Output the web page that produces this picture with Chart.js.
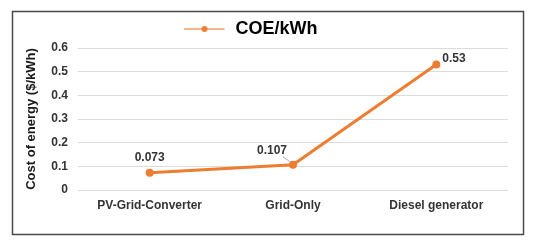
<!DOCTYPE html>
<html>
<head>
<meta charset="utf-8">
<script src="https://cdn.jsdelivr.net/npm/chart.js@4/dist/chart.umd.min.js"></script>
<style>
  html, body { margin: 0; padding: 0; background: #fff; }
  #wrap { width: 539px; height: 249px; }
</style>
</head>
<body>
<div id="wrap"><canvas id="coeChart" width="539" height="249"></canvas></div>
<script>
const categories = ["PV-Grid-Converter", "Grid-Only", "Diesel generator"];
const coeValues = [0.073, 0.107, 0.53];
const coeLabels = ["0.073", "0.107", "0.53"];
const yTicks = [0, 0.1, 0.2, 0.3, 0.4, 0.5, 0.6];

const orange = "#ed7d31";
const font = "'Liberation Sans', Arial, sans-serif";

// legend swatch: short line with a dot in the middle
const swatch = document.createElement("canvas");
swatch.width = 42;
swatch.height = 10;
(() => {
  const c = swatch.getContext("2d");
  c.strokeStyle = "rgba(237,125,49,0.75)";
  c.lineWidth = 1.5;
  c.beginPath();
  c.moveTo(0, 5);
  c.lineTo(40, 5);
  c.stroke();
  c.fillStyle = orange;
  c.beginPath();
  c.arc(20, 5, 3, 0, Math.PI * 2);
  c.fill();
})();

const frame = {
  id: "frame",
  beforeDraw(chart) {
    const ctx = chart.ctx;
    ctx.save();
    ctx.fillStyle = "#fff";
    ctx.fillRect(0, 0, chart.width, chart.height);
    ctx.strokeStyle = "#4a4a4a";
    ctx.lineWidth = 1.5;
    ctx.strokeRect(12.5, 11.5, 511, 223);
    ctx.restore();
  },
};

// offsets of each value label from its point: [dx, dy, align]
const labelPlacement = [
  [0, -15, "center"],
  [-21, -14, "center"],
  [6, -6, "left"],
];

const valueLabels = {
  id: "valueLabels",
  afterDatasetsDraw(chart) {
    const ctx = chart.ctx;
    const meta = chart.getDatasetMeta(0);
    ctx.save();
    ctx.font = `bold 12px ${font}`;
    ctx.fillStyle = "#333";
    ctx.textBaseline = "middle";
    meta.data.forEach((pt, i) => {
      const [dx, dy, align] = labelPlacement[i];
      ctx.textAlign = align;
      ctx.fillText(coeLabels[i], pt.x + dx, pt.y + dy);
      if (i === 1) {
        ctx.strokeStyle = "#999";
        ctx.lineWidth = 0.8;
        ctx.beginPath();
        ctx.moveTo(pt.x - 10, pt.y - 8);
        ctx.lineTo(pt.x - 2, pt.y - 2);
        ctx.stroke();
      }
    });
    ctx.restore();
  },
};

new Chart(document.getElementById("coeChart"), {
  type: "line",
  data: {
    labels: categories,
    datasets: [
      {
        label: "COE/kWh",
        data: coeValues,
        borderColor: orange,
        backgroundColor: orange,
        borderWidth: 3,
        pointRadius: 4,
        pointBackgroundColor: orange,
        pointBorderWidth: 0,
        tension: 0,
      },
    ],
  },
  options: {
    responsive: false,
    animation: false,
    layout: { padding: { left: -6, right: 31, top: 10, bottom: 0 } },
    plugins: {
      legend: {
        position: "top",
        labels: {
          usePointStyle: true,
          pointStyleWidth: 42,
          color: "#111",
          font: { family: font, size: 18, weight: "bold" },
          generateLabels: (chart) => [
            {
              text: chart.data.datasets[0].label,
              pointStyle: swatch,
              fillStyle: orange,
              strokeStyle: orange,
              lineWidth: 0,
              datasetIndex: 0,
            },
          ],
        },
      },
      tooltip: { enabled: false },
    },
    scales: {
      x: {
        offset: true,
        grid: { display: false, drawTicks: false },
        border: { display: false },
        ticks: { color: "#333", padding: 8, font: { family: font, size: 12, weight: "bold" } },
        afterFit: (scale) => { scale.height = 59; },
      },
      y: {
        min: 0,
        max: 0.6,
        afterBuildTicks: (scale) => { scale.ticks = yTicks.map((v) => ({ value: v })); },
        grid: { color: "#dcdcdc", lineWidth: 1, drawTicks: false },
        border: { display: false },
        ticks: {
          color: "#333",
          padding: 10,
          font: { family: font, size: 12, weight: "bold" },
          callback: (v) => String(v),
        },
        title: {
          display: true,
          text: "Cost of energy ($/kWh)",
          color: "#1a1a1a",
          padding: { top: 30, bottom: 0 },
          font: { family: font, size: 13, weight: "bold" },
        },
        afterFit: (scale) => { scale.width = 84; },
      },
    },
  },
  plugins: [frame, valueLabels],
});
</script>
</body>
</html>
